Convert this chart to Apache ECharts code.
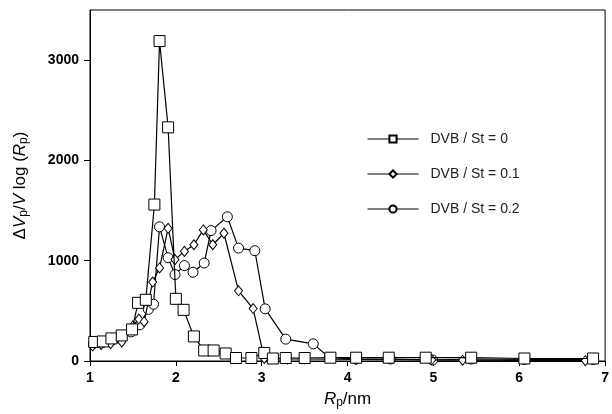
<!DOCTYPE html>
<html>
<head>
<meta charset="utf-8">
<script src="https://cdn.jsdelivr.net/npm/echarts@6/dist/echarts.min.js"></script>
<style>
  html, body { margin: 0; padding: 0; background: #fff; }
  #chart { width: 612px; height: 414px; }
</style>
</head>
<body>
<div id="chart"></div>
<script>
// pore size distribution
const xTicks = [1, 2, 3, 4, 5, 6, 7];
const yTicks = [0, 1000, 2000, 3000];

const names = ['DVB / St = 0', 'DVB / St = 0.1', 'DVB / St = 0.2'];

const rp0 = [1.05, 1.15, 1.25, 1.37, 1.49, 1.56, 1.65, 1.75, 1.81, 1.91, 2.0, 2.09, 2.21, 2.33, 2.44, 2.58, 2.70, 2.88, 3.03, 3.13, 3.28, 3.50, 3.80, 4.10, 4.48, 4.91, 5.44, 6.06, 6.86];
const dv0 = [190, 195, 225, 255, 315, 580, 610, 1560, 3190, 2330, 620, 510, 245, 105, 105, 75, 30, 30, 80, 25, 30, 30, 33, 33, 33, 33, 33, 25, 25];

const rp1 = [1.03, 1.13, 1.24, 1.37, 1.50, 1.57, 1.63, 1.73, 1.81, 1.91, 1.99, 2.10, 2.21, 2.32, 2.43, 2.56, 2.73, 2.90, 3.03, 3.30, 3.50, 4.10, 4.98, 5.34, 6.77];
const dv1 = [150, 165, 172, 190, 350, 418, 392, 787, 928, 1323, 1011, 1093, 1159, 1307, 1159, 1274, 700, 523, 25, 20, 20, 15, 12, 8, 3];

const rp2 = [1.04, 1.15, 1.25, 1.37, 1.48, 1.58, 1.68, 1.74, 1.81, 1.91, 1.99, 2.10, 2.20, 2.33, 2.41, 2.60, 2.73, 2.92, 3.04, 3.28, 3.60, 3.79, 4.10, 4.50, 4.99, 5.44, 6.06, 6.86];
const dv2 = [175, 185, 205, 235, 290, 360, 515, 566, 1338, 1030, 862, 951, 885, 977, 1300, 1438, 1126, 1100, 520, 218, 171, 33, 20, 20, 10, 20, 15, 15];

function pairs(xs, ys) {
  return xs.map((x, i) => [x, ys[i]]);
}

const chart = echarts.init(document.getElementById('chart'));

const markerStyle = {
  color: '#fff',
  borderColor: '#000',
  borderWidth: 1
};

chart.setOption({
  animation: false,
  textStyle: {
    fontFamily: 'Liberation Sans, Arial, sans-serif',
    color: '#000'
  },
  grid: {
    left: 90,
    right: 5,
    top: 10,
    bottom: 48,
    show: true,
    borderColor: '#000',
    borderWidth: 1
  },
  legend: {
    orient: 'vertical',
    left: 362,
    top: 127,
    itemWidth: 51,
    itemHeight: 9,
    itemGap: 21,
    data: names,
    lineStyle: {width: 1},
    textStyle: {
      fontSize: 14,
      color: '#222',
      padding: [0, 0, 0, 7]
    }
  },
  xAxis: {
    type: 'value',
    min: 1,
    max: 7,
    interval: 1,
    name: '{i|R}{s|p}{n|/nm}',
    nameLocation: 'middle',
    nameGap: 28,
    nameTextStyle: {
      rich: {
        i: {fontSize: 17, fontStyle: 'italic', color: '#000'},
        s: {fontSize: 12, color: '#000', verticalAlign: 'bottom', padding: [8, 0, 0, 0]},
        n: {fontSize: 17, color: '#000'}
      }
    },
    splitLine: {show: false},
    axisLine: {lineStyle: {color: '#000', width: 1}},
    axisTick: {show: true, length: 5, lineStyle: {color: '#000'}},
    axisLabel: {
      fontSize: 14,
      fontWeight: 'bold',
      color: '#000',
      margin: 10,
      formatter: v => xTicks.includes(v) ? String(v) : ''
    }
  },
  yAxis: {
    type: 'value',
    min: 0,
    max: 3500,
    interval: 1000,
    name: '{a|Δ}{i|V}{s|p}{a|/}{i|V}{a| log (}{i|R}{s|p}{a|)}',
    nameLocation: 'middle',
    nameRotate: 90,
    nameGap: 60,
    nameTextStyle: {
      rich: {
        a: {fontSize: 17, color: '#000'},
        i: {fontSize: 17, fontStyle: 'italic', color: '#000'},
        s: {fontSize: 12, color: '#000', verticalAlign: 'bottom', padding: [8, 0, 0, 0]}
      }
    },
    splitLine: {show: false},
    axisLine: {show: true, lineStyle: {color: '#000', width: 1}},
    axisTick: {show: true, length: 6, lineStyle: {color: '#000'}, customValues: yTicks},
    axisLabel: {
      fontSize: 14,
      fontWeight: 'bold',
      color: '#000',
      margin: 11,
      customValues: yTicks,
      formatter: v => String(v)
    }
  },
  series: [
    {
      name: names[2],
      type: 'line',
      data: pairs(rp2, dv2),
      symbol: 'circle',
      symbolSize: 10,
      showAllSymbol: true,
      lineStyle: {color: '#000', width: 1.2},
      itemStyle: markerStyle,
      z: 2
    },
    {
      name: names[1],
      type: 'line',
      data: pairs(rp1, dv1),
      symbol: 'diamond',
      symbolSize: [8, 10],
      showAllSymbol: true,
      lineStyle: {color: '#000', width: 1.2},
      itemStyle: markerStyle,
      z: 3
    },
    {
      name: names[0],
      type: 'line',
      data: pairs(rp0, dv0),
      symbol: 'rect',
      symbolSize: 11,
      showAllSymbol: true,
      lineStyle: {color: '#000', width: 1.2},
      itemStyle: markerStyle,
      z: 4
    }
  ]
});
</script>
</body>
</html>
